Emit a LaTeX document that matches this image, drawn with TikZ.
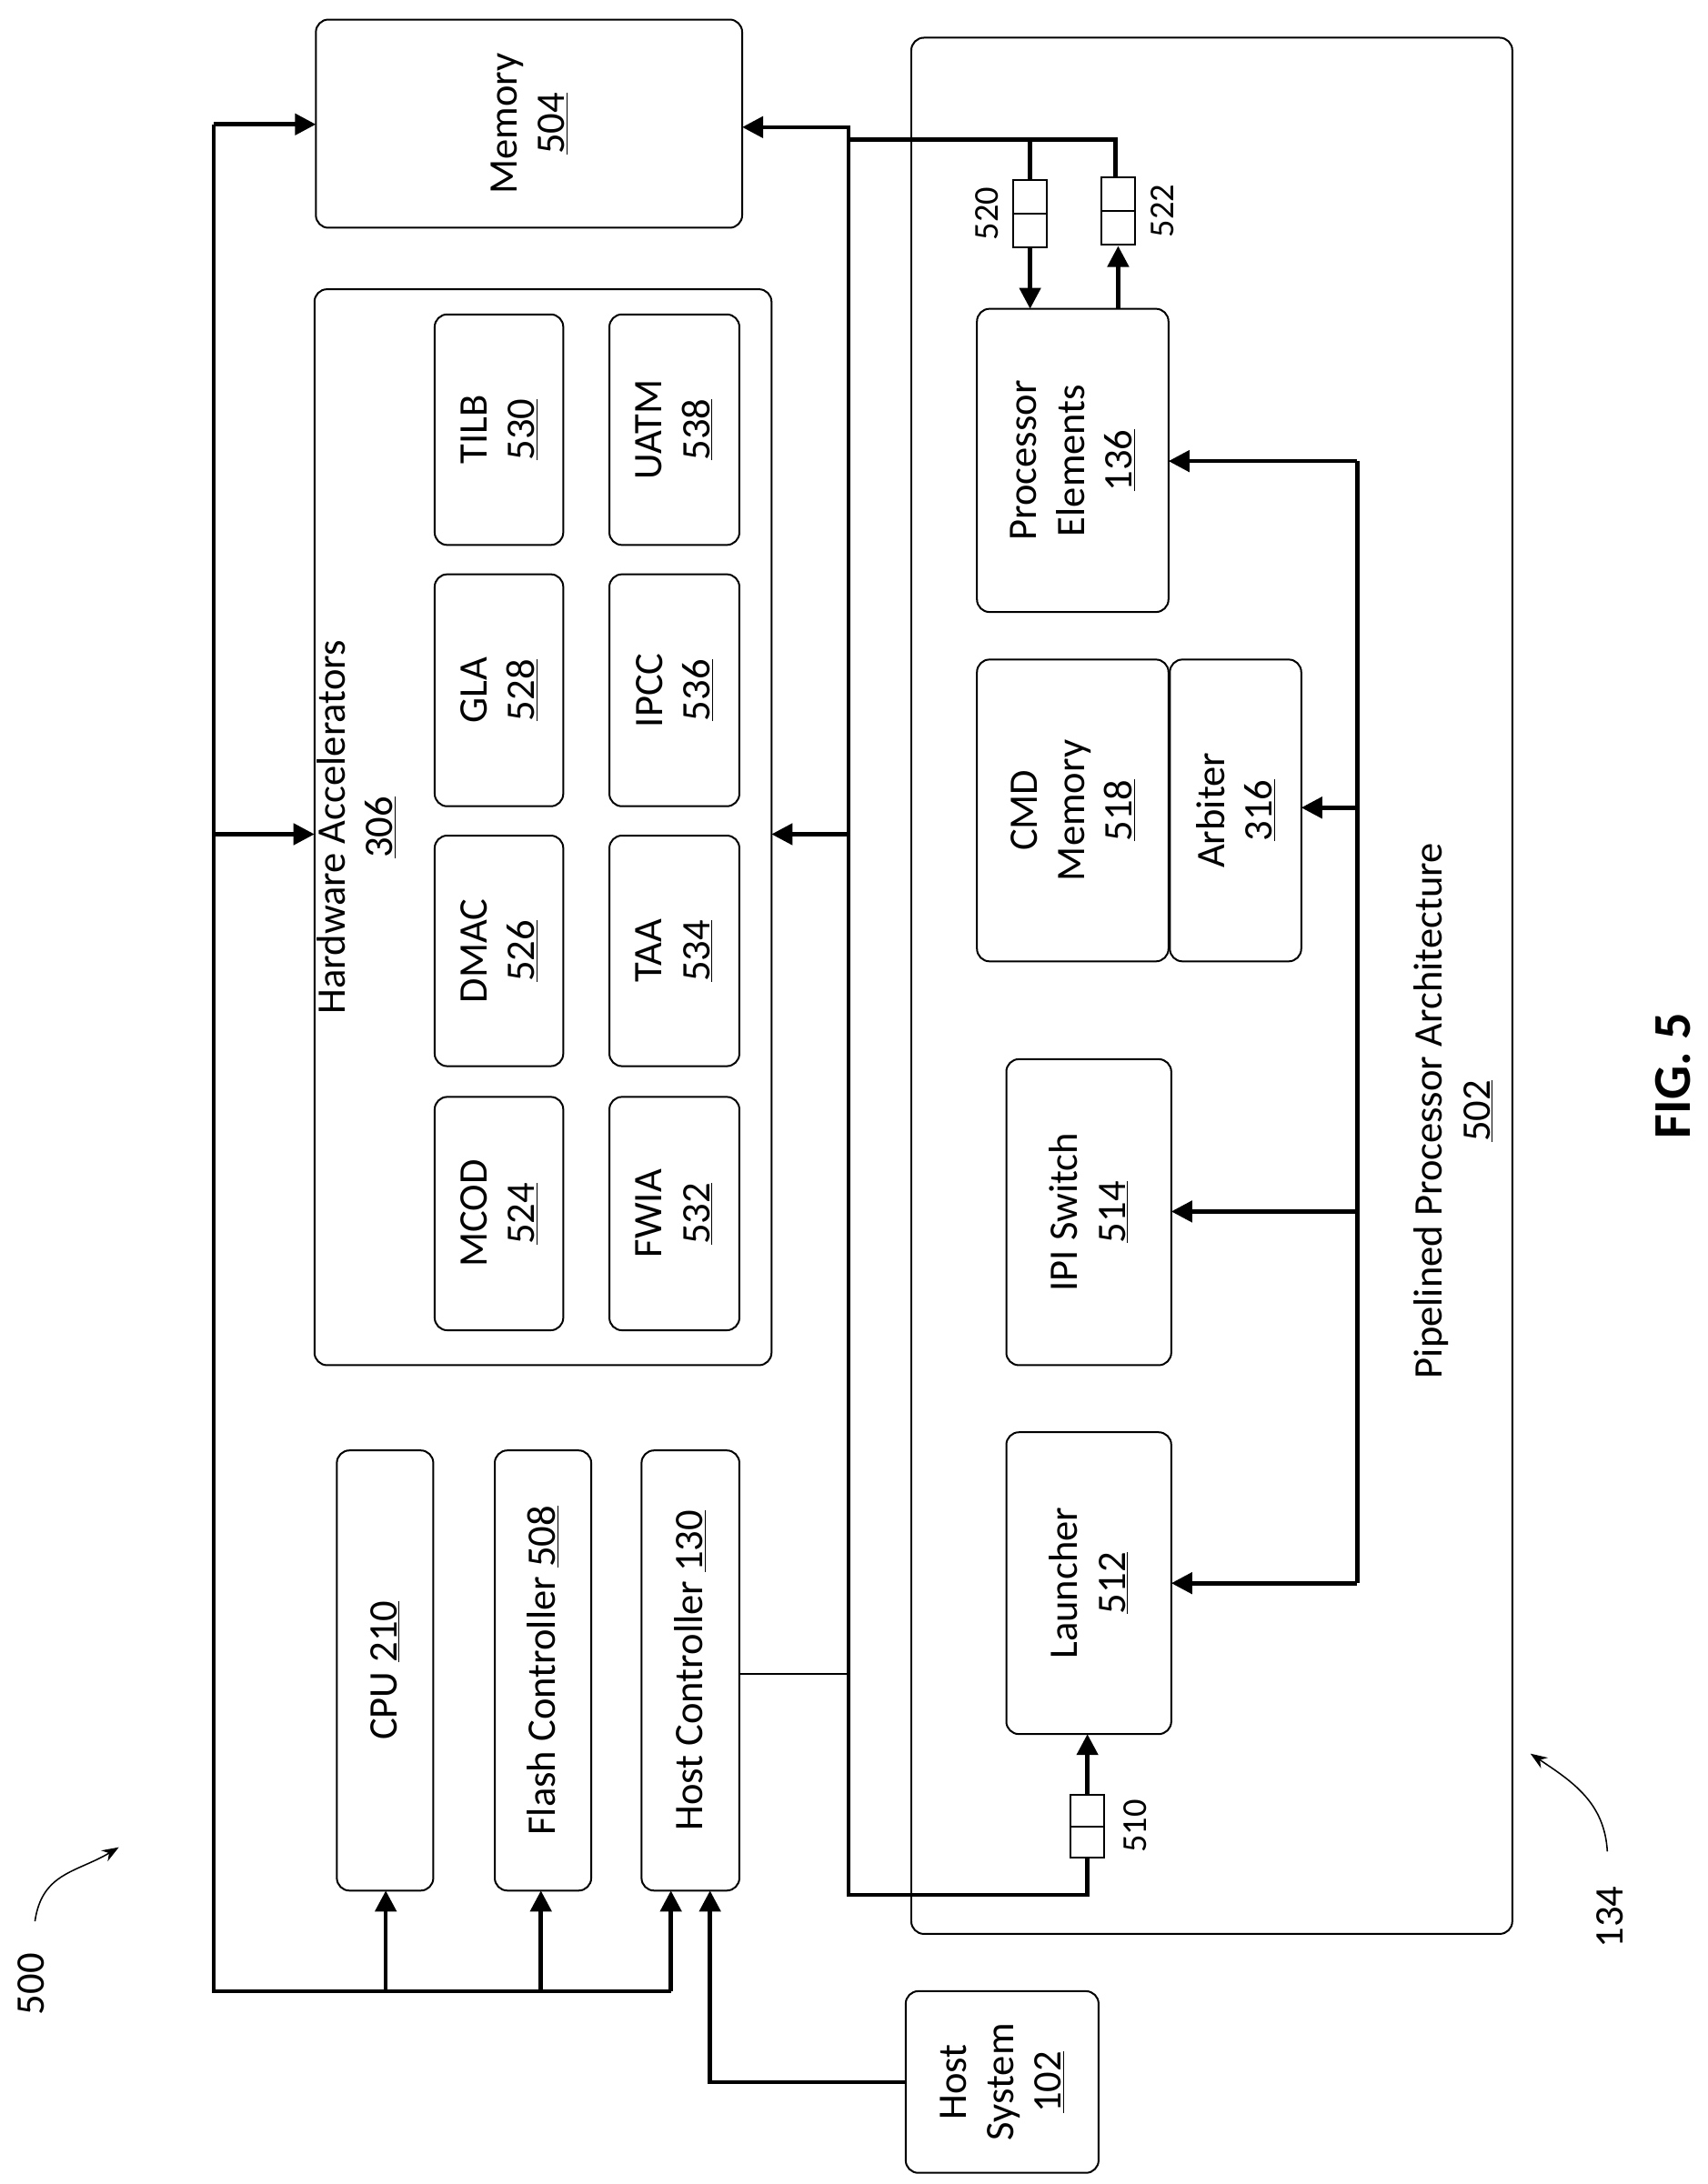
\documentclass[tikz,border=0pt]{standalone}
\usepackage{fontspec}
\setmainfont{Carlito}
\usetikzlibrary{arrows.meta}
\newcommand\bx[6]{\node[box,minimum width={(#5-#3)*1pt},minimum height={(#4-#2)*1pt}] (#1) at ({(#2+#4)/2},{(#3+#5)/2}) {#6};}
\newcommand\un[1]{\underline{#1}}
\begin{document}
\begin{tikzpicture}[x=1pt,y=-1pt,
  box/.style={draw,line width=1.3pt,rounded corners=9pt,rotate=90,align=center,inner sep=0pt,font=\fontsize{29}{34}\selectfont},
  bus/.style={line width=3pt},
  arr/.style={bus,-{Triangle[length=15pt,width=15pt]}},
  lab/.style={rotate=90,font=\fontsize{29}{34}\selectfont,align=center},
  q/.style={draw,line width=1.3pt,fill=white}]
\useasboundingbox (0,0) rectangle (1222,1563);
% boxes
\bx{mem}{226}{14}{531}{163}{Memory\\\un{504}}
\draw[line width=1.3pt,rounded corners=9pt] (225,207) rectangle (552,977);
\node[lab] (hat) at (255,592) {Hardware Accelerators\\\un{306}};
\bx{tilb}{311}{225}{403}{390}{TILB\\\un{530}}
\bx{gla}{311}{411}{403}{577}{GLA\\\un{528}}
\bx{dmac}{311}{598}{403}{763}{DMAC\\\un{526}}
\bx{mcod}{311}{785}{403}{952}{MCOD\\\un{524}}
\bx{uatm}{436}{225}{529}{390}{UATM\\\un{538}}
\bx{ipcc}{436}{411}{529}{577}{IPCC\\\un{536}}
\bx{taa}{436}{598}{529}{763}{TAA\\\un{534}}
\bx{fwia}{436}{785}{529}{952}{FWIA\\\un{532}}
\bx{cpu}{241}{1038}{310}{1353}{CPU \un{210}}
\bx{flash}{354}{1038}{423}{1353}{Flash Controller \un{508}}
\bx{hc}{459}{1038}{529}{1353}{Host Controller \un{130}}
\bx{host}{648}{1425}{786}{1555}{Host\\System\\\un{102}}
\draw[line width=1.3pt,rounded corners=9pt] (652,27) rectangle (1082,1384);
\node[lab] (ppa) at (1040,795) {Pipelined Processor Architecture\\\un{502}};
\bx{pe}{699}{221}{836}{438}{Processor\\Elements\\\un{136}}
\bx{cmd}{699}{472}{836}{688}{CMD\\Memory\\\un{518}}
\bx{arb}{837}{472}{931}{688}{Arbiter\\\un{316}}
\bx{ipi}{720}{758}{838}{977}{IPI Switch\\\un{514}}
\bx{lau}{720}{1025}{838}{1241}{Launcher\\\un{512}}
% left bus
\coordinate (lt) at (153,89); \coordinate (lb) at (153,1425);
\draw[bus] (lt) -- (lb) -- (480,1425);
\draw[arr] (lt) -- (226,89);
\draw[arr] (153,597) -- (225,597);
\draw[arr] (276,1425) -- (276,1353);
\draw[arr] (387,1425) -- (387,1353);
\draw[arr] (480,1425) -- (480,1353);
\draw[arr] (648,1490) -- (508,1490) -- (508,1353);
% right bus
\draw[line width=1pt] (529,1198) -- (607,1198);
\draw[arr] (798,130) -- (798,100) -- (607,100) -- (607,91) -- (531,91);
\draw[bus] (607,100) -- (607,1356) -- (778,1356) -- (778,1330);
\draw[arr] (607,597) -- (552,597);
\draw[arr] (778,1285) -- (778,1241);
\node[q,minimum width=24pt,minimum height=45pt,inner sep=0pt] (q510) at (778,1307) {};
\draw[line width=1.3pt] (q510.west) -- (q510.east);
\node[lab,font=\fontsize{25}{28}\selectfont] at (812,1307) {510};
% 520 / 522
\draw[bus] (737,100) -- (737,129);
\draw[arr] (737,177) -- (737,221);
\node[q,minimum width=24pt,minimum height=48pt,inner sep=0pt] (q520) at (737,153) {};
\draw[line width=1.3pt] (q520.west) -- (q520.east);
\node[lab,font=\fontsize{25}{28}\selectfont] at (706,153) {520};
\draw[arr] (800,221) -- (800,176);
\node[q,minimum width=24pt,minimum height=48pt,inner sep=0pt] (q522) at (800,151) {};
\draw[line width=1.3pt] (q522.west) -- (q522.east);
\node[lab,font=\fontsize{25}{28}\selectfont] at (832,151) {522};
% control bus
\draw[bus] (971,330) -- (971,1133);
\draw[arr] (971,330) -- (836,330);
\draw[arr] (971,578) -- (931,578);
\draw[arr] (971,867) -- (838,867);
\draw[arr] (971,1133) -- (838,1133);
% ref labels
\node[lab] (l500) at (22,1420) {500};
\draw[line width=1pt,-{Stealth[length=12pt]}] (25,1375) .. controls (30,1340) and (55,1340) .. (85,1322);
\node[lab] (l134) at (1152,1372) {134};
\draw[line width=1pt,-{Stealth[length=12pt]}] (1150,1325) .. controls (1148,1290) and (1125,1275) .. (1095,1255);
\node[lab,font=\bfseries\fontsize{38}{42}\selectfont] (fig) at (1197,770) {FIG. 5};
\end{tikzpicture}
\end{document}
